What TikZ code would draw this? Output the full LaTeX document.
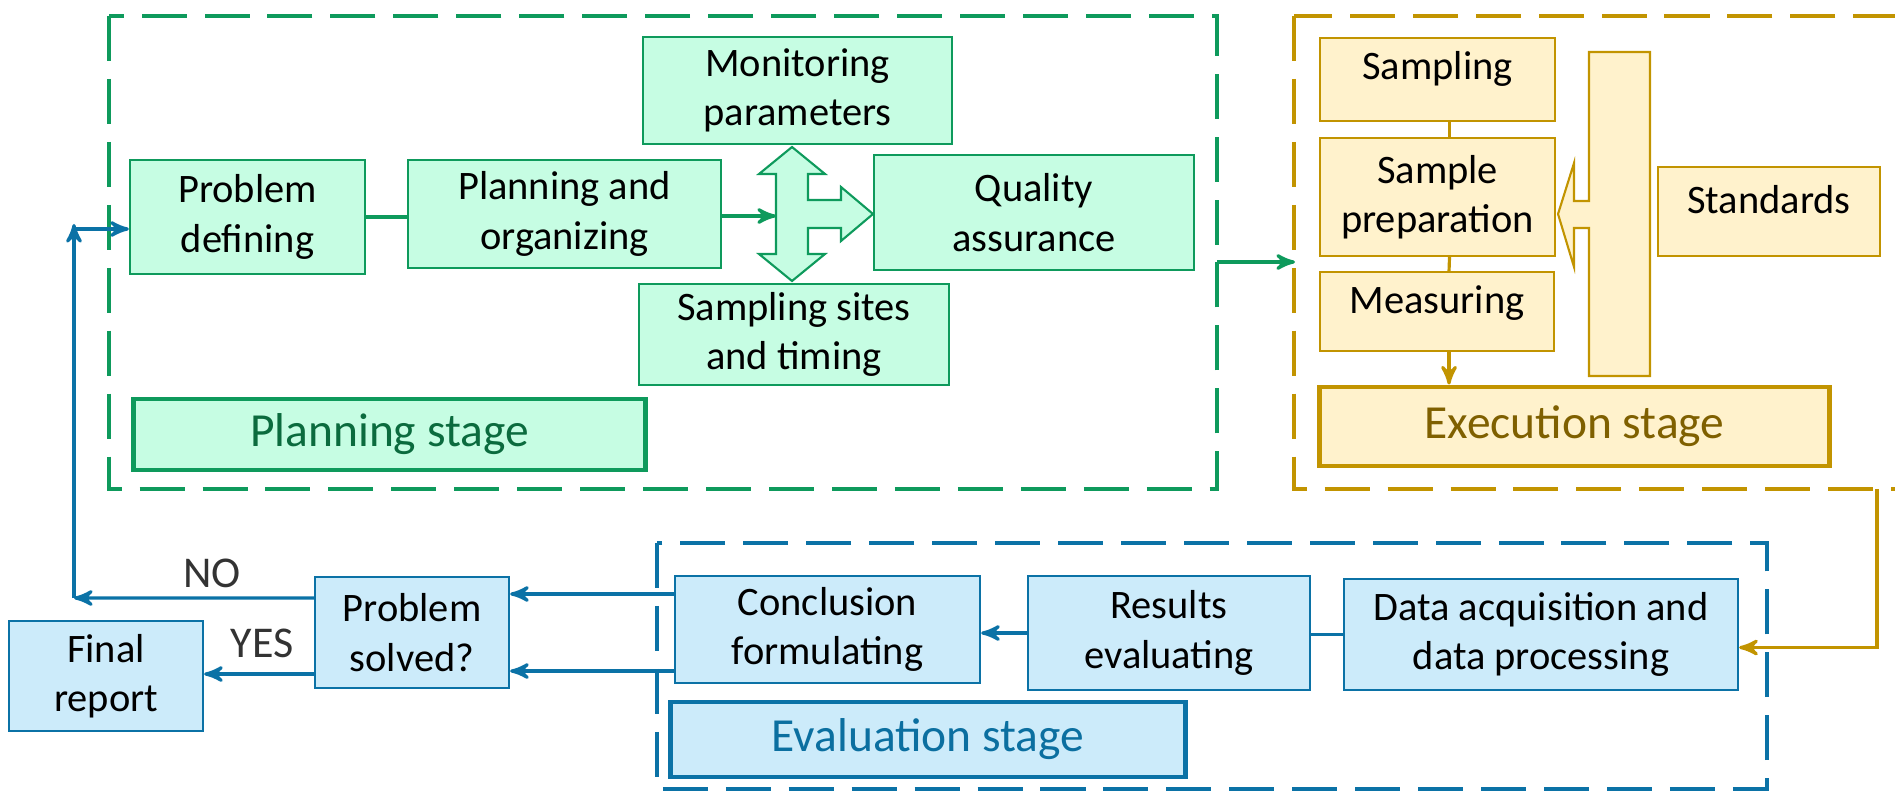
\documentclass[tikz,border=0pt]{standalone}
\usepackage{fontspec}
\setmainfont{Carlito}
\usepackage{tikz}
\usetikzlibrary{positioning}
\usetikzlibrary{arrows}

\definecolor{grn}{RGB}{14,154,92}
\definecolor{grnfill}{RGB}{198,253,227}
\definecolor{grntxt}{RGB}{11,107,62}
\definecolor{gld}{RGB}{194,148,0}
\definecolor{gldfill}{RGB}{255,242,204}
\definecolor{gldtxt}{RGB}{127,96,0}
\definecolor{blu}{RGB}{11,114,166}
\definecolor{blufill}{RGB}{204,235,250}
\definecolor{blutxt}{RGB}{11,111,160}

\begin{document}
\begin{tikzpicture}[x=0.01cm,y=-0.01cm,>=stealth',
    box/.style={rectangle,draw,line width=0.6pt,align=center,inner sep=0pt,
        font=\fontsize{11.5}{14}\selectfont},
    gbox/.style={box,draw=grn,fill=grnfill},
    ybox/.style={box,draw=gld,fill=gldfill},
    bbox/.style={box,draw=blu,fill=blufill},
    stagebox/.style={rectangle,draw,line width=1.4pt,inner sep=0pt,
        font=\fontsize{13.5}{16}\selectfont},
    frame/.style={dash pattern=on 12.8pt off 5.1pt,line width=1.15pt},
    link/.style={line width=0.9pt},
    lbl/.style={font=\fontsize{12.5}{14}\selectfont,text=black!80}]

  \useasboundingbox (0,0) rectangle (1895,791);

  % planning stage
  \draw[frame,grn] (109,16) rectangle (1217,489);
  \node[gbox,minimum width=2.35cm,minimum height=1.14cm] (pd) at (247.5,217) {Problem\\defining};
  \node[gbox,minimum width=3.13cm,minimum height=1.08cm] (po) at (564.5,214) {Planning and\\organizing};
  \node[gbox,minimum width=3.09cm,minimum height=1.07cm] (mp) at (797.5,90.5) {Monitoring\\parameters};
  \node[gbox,minimum width=3.10cm,minimum height=1.01cm] (st) at (794,334.5) {Sampling sites\\and timing};
  \node[gbox,minimum width=3.20cm,minimum height=1.15cm] (qa) at (1034,212.5) {Quality\\assurance};
  \node[stagebox,draw=grn,fill=grnfill,text=grntxt,minimum width=5.11cm,minimum height=0.71cm] (pls) at (389.5,434.5) {Planning stage};
  \draw[line width=0.6pt,draw=grn,fill=grnfill] (792,147) -- (825,174) -- (808,174) -- (808,200) -- (841,200) -- (841,187)
    -- (873,214) -- (841,241) -- (841,228) -- (808,228) -- (808,254) -- (825,254) -- (792,281)
    -- (759,254) -- (776,254) -- (776,174) -- (759,174) -- cycle;
  \coordinate (crs) at (776,216);
  \coordinate (gout) at (1217,262);
  \coordinate (gin) at (1295,262);

  % execution stage
  \draw[frame,gld] (1294,16) rectangle (1910,489);
  \node[ybox,minimum width=2.35cm,minimum height=0.83cm,text depth=7.8pt] (smp) at (1437.5,79.5) {Sampling};
  \node[ybox,minimum width=2.35cm,minimum height=1.18cm] (prep) at (1437.5,197) {Sample\\preparation};
  \node[ybox,minimum width=2.34cm,minimum height=0.79cm,text depth=6.7pt] (meas) at (1437,311.5) {Measuring};
  \node[ybox,minimum width=2.22cm,minimum height=0.89cm,text depth=6.8pt] (std) at (1769,211.5) {Standards};
  \node[stagebox,draw=gld,fill=gldfill,text=gldtxt,minimum width=5.09cm,minimum height=0.79cm] (exs) at (1574.5,426.5) {Execution stage};
  \draw[line width=0.6pt,draw=gld,fill=gldfill] (1650,52) -- (1589,52) -- (1589,201) -- (1574,201) -- (1574,163)
    -- (1558,214) -- (1574,267) -- (1574,228) -- (1589,228) -- (1589,376) -- (1650,376) -- cycle;
  \coordinate (gdn) at (1877,489);

  % evaluation stage
  \draw[frame,blu] (657,543) rectangle (1767,789);
  \node[bbox,minimum width=3.05cm,minimum height=1.07cm] (cf) at (827.5,629.5) {Conclusion\\formulating};
  \node[bbox,minimum width=2.82cm,minimum height=1.14cm] (re) at (1169,633) {Results\\evaluating};
  \node[bbox,minimum width=3.94cm,minimum height=1.11cm] (da) at (1541,634.5) {Data acquisition and\\data processing};
  \node[stagebox,draw=blu,fill=blufill,text=blutxt,minimum width=5.14cm,minimum height=0.75cm] (evs) at (928,739.5) {Evaluation stage};
  \node[bbox,minimum width=1.94cm,minimum height=1.11cm] (ps) at (412,632.5) {Problem\\solved?};
  \node[bbox,minimum width=1.94cm,minimum height=1.10cm] (fr) at (106,676) {Final\\report};
  \node[lbl] (no) at (212,573) {NO};
  \node[lbl] (yes) at (262,643) {YES};
  \coordinate (nob) at (74,598);
  \coordinate (back) at (74,229);

  % connectors
  \draw[link,grn] (pd.east) -- (pd.east -| po.west);
  \draw[link,grn,->] (po.east |- crs) -- (crs);
  \draw[link,grn,->] (gout) -- (gin);

  \draw[link,gld] ([xshift=0.12cm]smp.south) -- ([xshift=0.12cm]prep.north);
  \draw[link,gld] ([xshift=0.12cm]prep.south) -- ([xshift=0.12cm]meas.north);
  \draw[link,gld,->] ([xshift=0.12cm]meas.south) -- ([xshift=0.12cm]meas.south |- exs.north);
  \draw[link,gld,->] (gdn) |- ([yshift=-0.13cm]da.east);

  \draw[link,blu] (da.west) -- (da.west -| re.east);
  \draw[link,blu,->] (re.west) -- (re.west -| cf.east);
  \draw[link,blu,->] ([yshift=0.355cm]cf.west) -- ([yshift=0.355cm]cf.west -| ps.east);
  \draw[link,blu,->] ([yshift=-0.415cm]cf.west) -- ([yshift=-0.415cm]cf.west -| ps.east);
  \draw[link,blu,->] ([yshift=0.345cm]ps.west) -- (nob);
  \draw[link,blu,->] (nob) -- ([yshift=0.05cm]back);
  \draw[link,blu,->] (back) -- (back -| pd.west);
  \draw[link,blu,->] ([yshift=-0.415cm]ps.west) -- ([yshift=-0.415cm]ps.west -| fr.east);

\end{tikzpicture}
\end{document}
